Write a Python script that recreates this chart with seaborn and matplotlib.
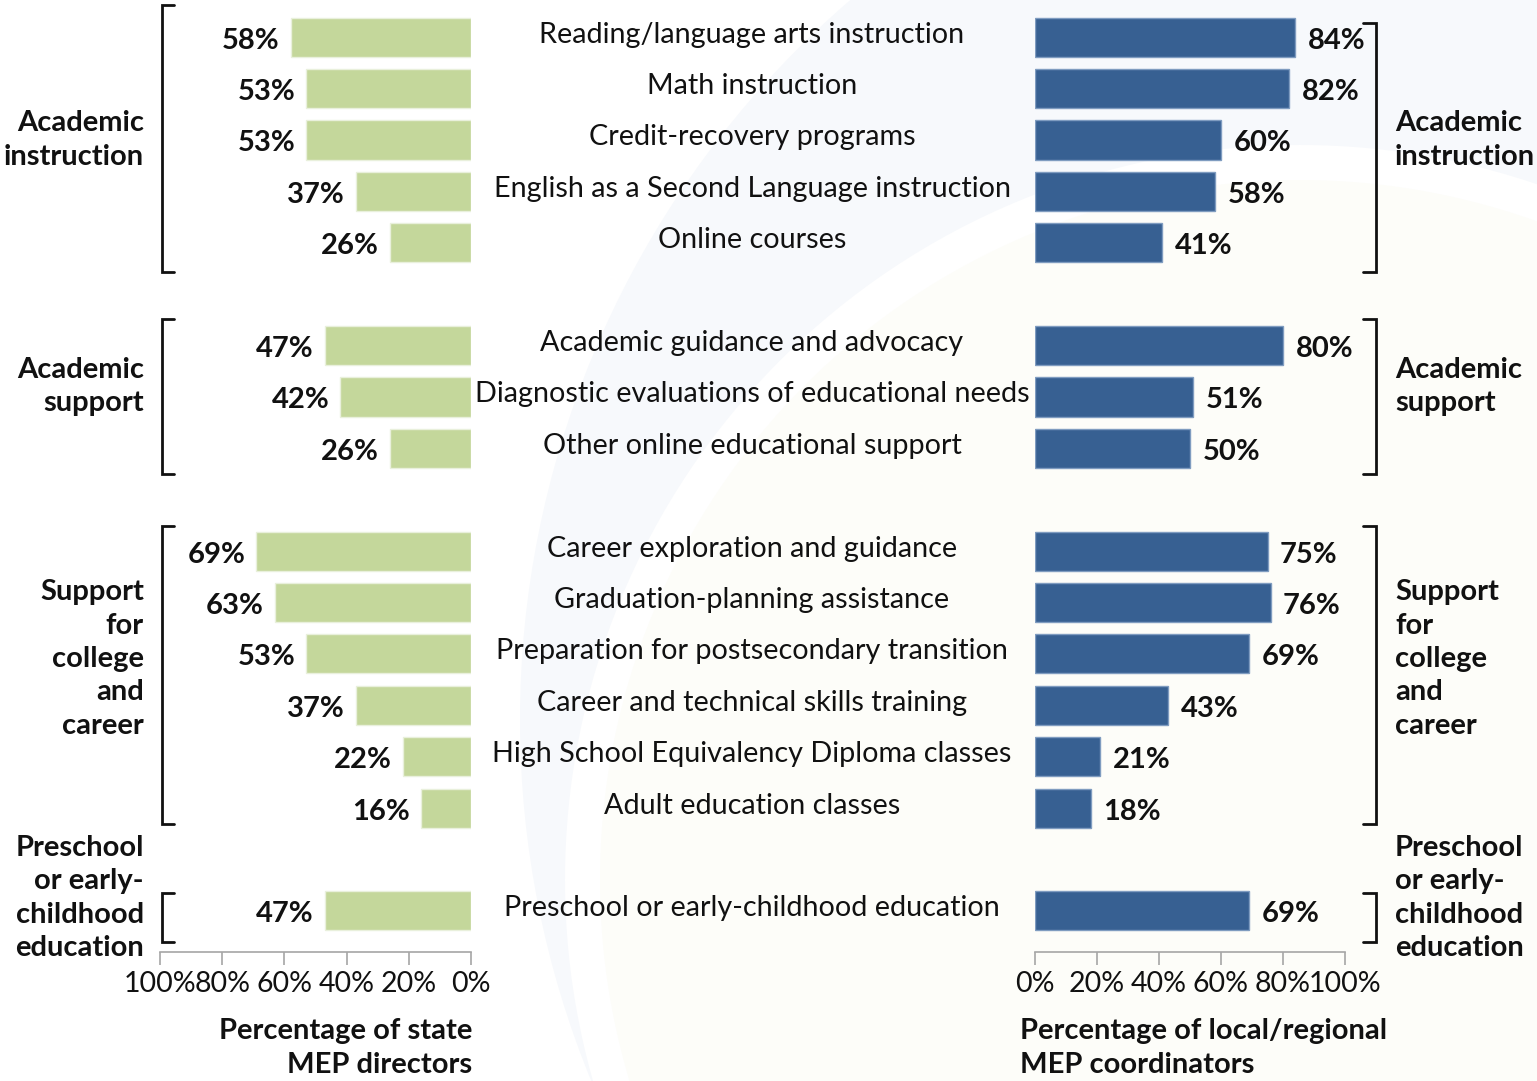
import matplotlib
matplotlib.use("Agg")
import matplotlib.pyplot as plt
import seaborn as sns
import pandas as pd
import numpy as np
from matplotlib.lines import Line2D
from matplotlib.patches import Ellipse
from matplotlib.transforms import blended_transform_factory

# ---------------- data ----------------
groups = ["Academic\ninstruction", "Academic\nsupport",
          "Support\nfor\ncollege\nand\ncareer",
          "Preschool\nor early-\nchildhood\neducation"]
group_sizes = [5, 3, 6, 1]
categories = [
    "Reading/language arts instruction",
    "Math instruction",
    "Credit-recovery programs",
    "English as a Second Language instruction",
    "Online courses",
    "Academic guidance and advocacy",
    "Diagnostic evaluations of educational needs",
    "Other online educational support",
    "Career exploration and guidance",
    "Graduation-planning assistance",
    "Preparation for postsecondary transition",
    "Career and technical skills training",
    "High School Equivalency Diploma classes",
    "Adult education classes",
    "Preschool or early-childhood education",
]
state_pct = [58, 53, 53, 37, 26, 47, 42, 26, 69, 63, 53, 37, 22, 16, 47]
local_pct = [84, 82, 60, 58, 41, 80, 51, 50, 75, 76, 69, 43, 21, 18, 69]
tick_vals = [0, 20, 40, 60, 80, 100]
tick_labels = ["0%", "20%", "40%", "60%", "80%", "100%"]
left_title = "Percentage of state\nMEP directors"
right_title = "Percentage of local/regional\nMEP coordinators"

# ---------------- style ----------------
GREEN = "#C4D79B"
BLUE = "#376092"
AXIS_GRAY = "#A6A6A6"
INK = "#111111"
FS = 21
FS_MID = 20.7
FS_TICK = 20.5
LS = 1.35

sns.set_theme(style="white")
plt.rcParams["font.family"] = ["Lato", "DejaVu Sans"]

group_of = np.repeat(np.arange(len(group_sizes)), group_sizes)
pos = np.arange(len(categories)) + group_of
df = pd.DataFrame({"category": categories, "pos": pos,
                   "state": state_pct, "local": local_pct})

W, H = 1537, 1081
fig = plt.figure(figsize=(W / 100, H / 100), dpi=100)
fig.patch.set_facecolor("white")


def fx(px):
    return px / W


def fy(py):
    return 1 - py / H


# faint watermark arcs in the background
def bg_circle(cx, cy, r, color, z):
    fig.add_artist(Ellipse((fx(cx), fy(cy)), 2 * r / W, 2 * r / H,
                           transform=fig.transFigure, facecolor=color,
                           edgecolor="none", zorder=z))


bg_circle(1470, 720, 950, "#F7F9FC", -5)
bg_circle(1300, 880, 735, "#FFFFFF", -4)
bg_circle(1300, 880, 700, "#FDFDF9", -3)

ax_bottom, ax_top = 952, 10
axL = fig.add_axes([fx(160), fy(ax_bottom), fx(471) - fx(160), fy(ax_top) - fy(ax_bottom)])
axR = fig.add_axes([fx(1035), fy(ax_bottom), fx(1345) - fx(1035), fy(ax_top) - fy(ax_bottom)])

sns.barplot(data=df, x="state", y="pos", orient="h", native_scale=True,
            color=GREEN, saturation=1, width=0.76, errorbar=None, ax=axL,
            edgecolor="#E9F0DC", linewidth=1)
sns.barplot(data=df, x="local", y="pos", orient="h", native_scale=True,
            color=BLUE, saturation=1, width=0.76, errorbar=None, ax=axR,
            edgecolor="#7F9CC0", linewidth=1)

ylim = (17.8, -0.53)
for ax, xl in ((axL, (100, 0)), (axR, (0, 100))):
    ax.set_xlim(*xl)
    ax.set_ylim(*ylim)
    ax.set_facecolor("none")
    for s in ("top", "left", "right"):
        ax.spines[s].set_visible(False)
    ax.spines["bottom"].set_color(AXIS_GRAY)
    ax.spines["bottom"].set_linewidth(1.2)
    ax.set_xticks(tick_vals)
    ax.set_xticklabels(tick_labels)
    ax.set_yticks([])
    ax.tick_params(axis="x", direction="out", length=9, width=1.2,
                   color=AXIS_GRAY, labelsize=FS_TICK, labelcolor=INK, pad=5,
                   bottom=True)
    ax.set_xlabel("")
    ax.set_ylabel("")

# value labels
for p, v in zip(df["pos"], df["state"]):
    axL.annotate(f"{v}%", (v, p), xytext=(-8, -2.5), textcoords="offset points",
                 ha="right", va="center", fontsize=FS, fontweight="bold", color=INK)
for p, v in zip(df["pos"], df["local"]):
    axR.annotate(f"{v}%", (v, p), xytext=(9, -2.5), textcoords="offset points",
                 ha="left", va="center", fontsize=FS, fontweight="bold", color=INK)

# middle category labels
tr = blended_transform_factory(fig.transFigure, axL.transData)
for p, c in zip(df["pos"], df["category"]):
    fig.text(fx(752), p - 0.05, c, transform=tr, ha="center", va="center",
             fontsize=FS_MID, color=INK)

# brackets and group labels
label_shift = [0.0, -0.2, -0.4, -0.25]
top_pad = [0.62, 0.51, 0.49, 0.35]
bot_pad = [0.56, 0.49, 0.31, 0.6]
starts = np.cumsum([0] + group_sizes[:-1]) + np.arange(len(group_sizes))
lw = 2.0
for g, (name, s, n) in enumerate(zip(groups, starts, group_sizes)):
    e = s + n - 1
    top = s - top_pad[g]
    bot = e + bot_pad[g]
    xv, xa = fx(162), fx(174)
    fig.add_artist(Line2D([xa, xv, xv, xa], [top, top, bot, bot],
                          transform=tr, color=INK, lw=lw, solid_joinstyle="miter"))
    rtop = top if g != 0 else s - 0.27
    xv, xa = fx(1376), fx(1363)
    fig.add_artist(Line2D([xa, xv, xv, xa], [rtop, rtop, bot, bot],
                          transform=tr, color=INK, lw=lw, solid_joinstyle="miter"))
    mid = (s + e) / 2 + label_shift[g]
    fig.text(fx(144), mid, name, transform=tr, ha="right", va="center",
             fontsize=FS, fontweight="bold", color=INK, linespacing=LS)
    fig.text(fx(1395), mid, name, transform=tr, ha="left", va="center",
             fontsize=FS, fontweight="bold", color=INK, linespacing=LS)

# axis titles
fig.text(fx(472), fy(1048), left_title, ha="right", va="center",
         fontsize=FS, fontweight="bold", color=INK, linespacing=LS)
fig.text(fx(1020), fy(1048), right_title, ha="left", va="center",
         fontsize=FS, fontweight="bold", color=INK, linespacing=LS)

fig.savefig("out.png", dpi=100, facecolor="white")
